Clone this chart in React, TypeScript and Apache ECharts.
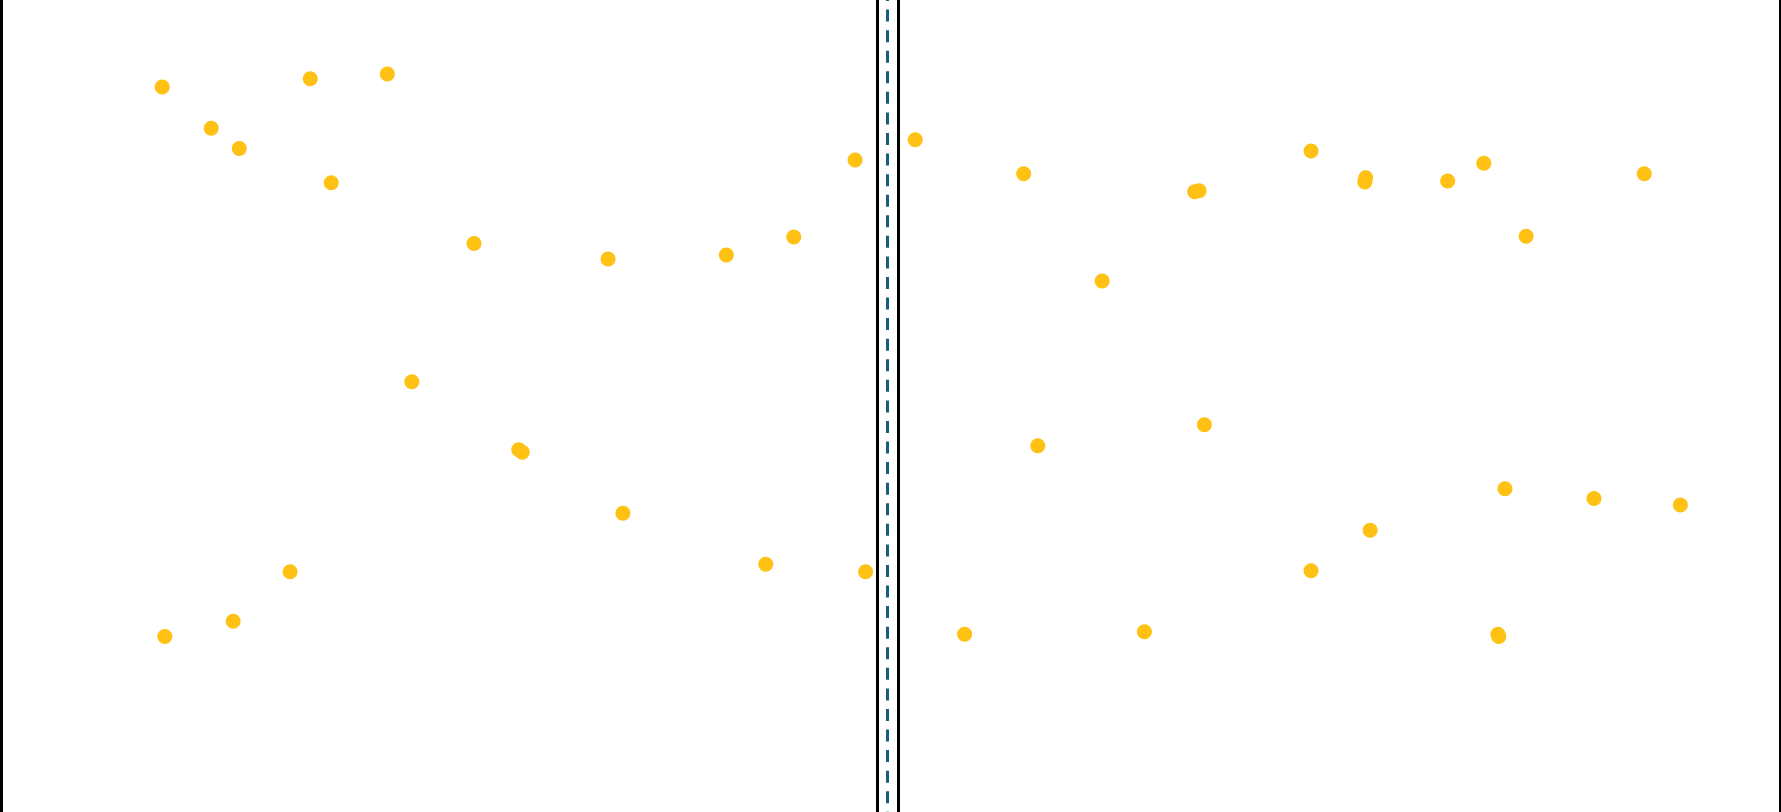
import React, { useEffect, useRef } from "react";
import * as echarts from "echarts";

// Left panel (values in % of panel width / height)
const leftX = [18.4, 24.0, 27.2, 35.3, 44.1, 37.7, 54.0, 69.3, 82.8, 90.5, 97.5, 46.9, 59.1, 59.5, 71.0, 33.0, 26.5, 18.7, 87.3, 98.7];
const leftY = [89.3, 84.2, 81.7, 90.3, 90.9, 77.5, 70.0, 68.1, 68.6, 70.8, 80.3, 53.0, 44.6, 44.3, 36.8, 29.6, 23.5, 21.6, 30.5, 29.6];

// Right panel
const rightX = [1.9, 14.2, 33.6, 34.1, 46.8, 52.9, 53.0, 62.3, 66.4, 84.6, 71.2, 23.1, 15.8, 34.7, 68.8, 78.9, 88.7, 53.5, 46.8, 7.5, 27.9, 68.0, 68.1];
const rightY = [82.8, 78.6, 76.4, 76.5, 81.4, 77.6, 78.1, 77.7, 79.9, 78.6, 70.9, 65.4, 45.1, 47.7, 39.8, 38.6, 37.8, 34.7, 29.7, 21.9, 22.2, 21.9, 21.6];

const DOT = "#FFC114";
const DIVIDER = "#155E7E";

export default function App() {
  const ref = useRef<HTMLDivElement>(null);
  useEffect(() => {
    const chart = echarts.init(ref.current!, null, { renderer: "svg" });
    const yAxisBase = (gridIndex: number, position: string) => ({
      type: "value",
      gridIndex,
      min: 0,
      max: 100,
      position,
      axisLine: { show: true, onZero: false, lineStyle: { color: "#000", width: 3 } },
      axisTick: { show: false },
      axisLabel: { show: false },
      splitLine: { show: false },
    });
    const xAxisBase = (gridIndex: number) => ({
      type: "value",
      gridIndex,
      min: 0,
      max: 100,
      show: false,
    });
    chart.setOption({
      animation: false,
      backgroundColor: "#fff",
      grid: [
        { left: 1, right: 904, top: 0, bottom: 0 },
        { left: 898.5, right: 1, top: 0, bottom: 0 },
      ],
      xAxis: [xAxisBase(0), xAxisBase(1)],
      yAxis: [
        yAxisBase(0, "left"),
        yAxisBase(0, "right"),
        yAxisBase(1, "left"),
        yAxisBase(1, "right"),
      ],
      graphic: [
        {
          type: "line",
          shape: { x1: 887.5, y1: 0, x2: 887.5, y2: 812 },
          style: { stroke: DIVIDER, lineWidth: 3, lineDash: [12, 8.57], lineDashOffset: 11.3 },
          silent: true,
        },
      ],
      series: [
        {
          type: "scatter",
          xAxisIndex: 0,
          yAxisIndex: 0,
          symbolSize: 15,
          itemStyle: { color: DOT, opacity: 1 },
          data: leftX.map((x, i) => [x, leftY[i]]),
        },
        {
          type: "scatter",
          xAxisIndex: 1,
          yAxisIndex: 2,
          symbolSize: 15,
          itemStyle: { color: DOT, opacity: 1 },
          data: rightX.map((x, i) => [x, rightY[i]]),
        },
      ],
    });
    return () => chart.dispose();
  }, []);
  return (
    <div
      ref={ref}
      style={{ position: "absolute", left: 0, top: 0, width: 1781, height: 812 }}
    />
  );
}
